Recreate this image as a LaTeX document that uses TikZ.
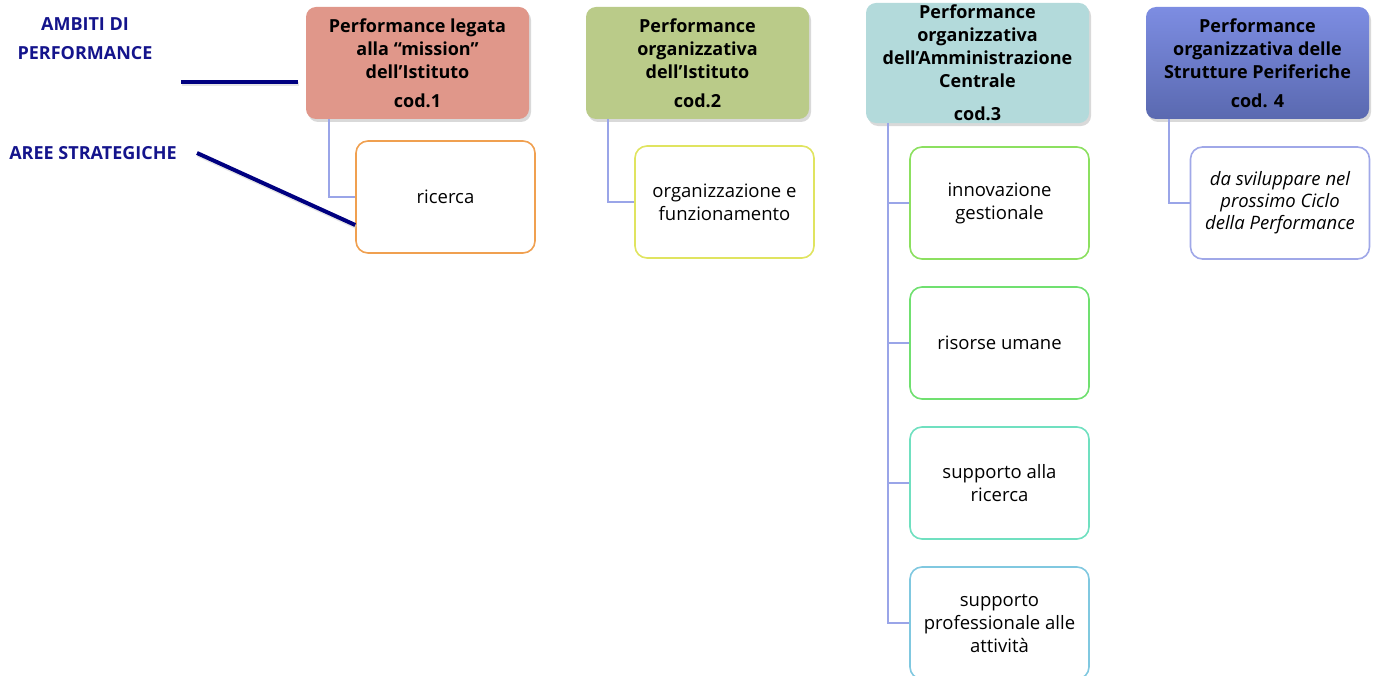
\documentclass[tikz,border=0pt]{standalone}
\usepackage{fontspec}
\setmainfont{Open Sans}
\usetikzlibrary{shadows}

\definecolor{navylab}{RGB}{20,20,140}
\definecolor{navyline}{RGB}{0,0,128}
\definecolor{connblue}{RGB}{154,165,232}
\definecolor{hdrred}{RGB}{224,151,138}
\definecolor{hdrgreen}{RGB}{186,203,137}
\definecolor{hdrcyan}{RGB}{179,218,219}
\definecolor{hdrbluetop}{RGB}{125,141,226}
\definecolor{hdrbluebot}{RGB}{90,105,176}
\definecolor{bdorange}{RGB}{240,160,80}
\definecolor{bdyellow}{RGB}{224,228,96}
\definecolor{bdgreenA}{RGB}{140,224,96}
\definecolor{bdgreenB}{RGB}{112,224,112}
\definecolor{bdteal}{RGB}{112,224,192}
\definecolor{bdsky}{RGB}{128,200,224}
\definecolor{bdlav}{RGB}{160,168,232}

\begin{document}
\begin{tikzpicture}[x=1pt, y=-1pt,
    header/.style={rounded corners=10pt, minimum width=223pt, minimum height=112pt,
        inner sep=2pt, align=center, font=\fontsize{18}{23}\selectfont\bfseries,
        drop shadow={opacity=0.3, shadow xshift=2pt, shadow yshift=-3pt}},
    area/.style={draw, line width=1.6pt, fill=white, rounded corners=12pt,
        minimum width=179pt, minimum height=112pt, inner sep=2pt, align=center,
        font=\fontsize{18.5}{23}\selectfont},
    conn/.style={connblue, line width=1.8pt},
    lab/.style={text=navylab, align=center, font=\fontsize{18}{29}\selectfont\bfseries},
    thickline/.style={navyline, line width=4pt}]
    \useasboundingbox (0,0) rectangle (1379,676);

    % left labels
    \node[lab] (ambiti) at (85,39) {AMBITI DI\\PERFORMANCE};
    \node[lab] (aree) at (93,153) {AREE STRATEGICHE};
    \coordinate (ambitiend) at (181,82);
    \coordinate (areeend) at (197,153);

    % headers
    \node[header, fill=hdrred] (h1) at (417.5,63) {Performance legata\\alla “mission”\\dell’Istituto\\[6pt]cod.1};
    \node[header, fill=hdrgreen] (h2) at (697.5,63) {Performance\\organizzativa\\dell'Istituto\\[6pt]cod.2};
    \node[header, fill=hdrcyan] (h3) at (977.5,63) {Performance\\organizzativa\\dell’Amministrazione\\Centrale\\[10pt]cod.3};
    \node[header, top color=hdrbluetop, bottom color=hdrbluebot] (h4) at (1257.5,63) {Performance\\organizzativa delle\\Strutture Periferiche\\[6pt]cod. 4};

    % strategic areas
    \node[area, draw=bdorange] (ricerca) at (445.5,197) {ricerca};
    \node[area, draw=bdyellow] (funz) at (724.5,202) {organizzazione e\\funzionamento};
    \node[area, draw=bdgreenA] (innov) at (999.5,203) {innovazione\\gestionale};
    \node[area, draw=bdgreenB] (risorse) at (999.5,343) {risorse umane};
    \node[area, draw=bdteal] (suppric) at (999.5,483) {supporto alla\\ricerca};
    \node[area, draw=bdsky] (suppatt) at (999.5,623) {supporto\\professionale alle\\attività};
    \node[area, draw=bdlav, font=\fontsize{18.5}{22}\selectfont\itshape] (ciclo) at (1280,203) {da sviluppare nel\\prossimo Ciclo\\della Performance};

    % connectors
    \draw[conn] ([xshift=23pt]h1.south west) |- (ricerca.west);
    \draw[conn] ([xshift=22pt]h2.south west) |- (funz.west);
    \foreach \n in {innov,risorse,suppric,suppatt}
        \draw[conn] ([xshift=22pt]h3.south west) |- (\n.west);
    \draw[conn] ([xshift=23pt]h4.south west) |- (ciclo.west);

    % navy pointers
    \draw[thickline, black!20, opacity=0.5] ([shift={(1,2)}]ambitiend) -- ([shift={(-7,2)}]h1.west |- ambitiend);
    \draw[thickline] (ambitiend) -- ([xshift=-8pt]h1.west |- ambitiend);
    \draw[thickline, black!20, opacity=0.5] ([shift={(1,2)}]areeend) -- ([shift={(1,30)}]ricerca.west);
    \draw[thickline] (areeend) -- ([yshift=-28pt]ricerca.west);
\end{tikzpicture}
\end{document}
